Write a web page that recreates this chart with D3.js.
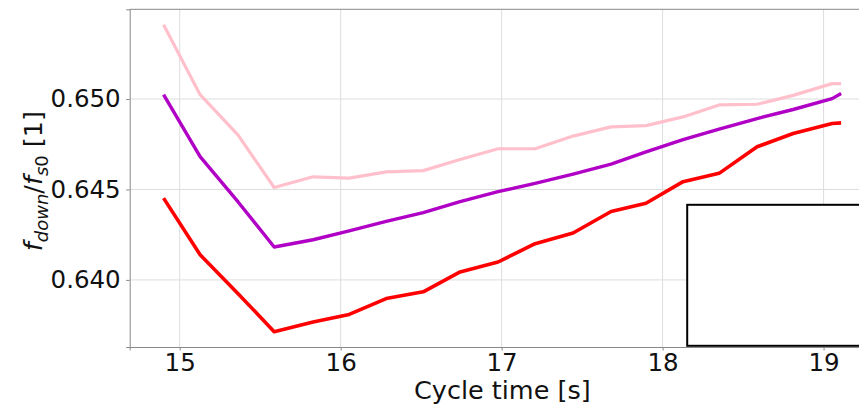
<!DOCTYPE html>
<meta charset="utf-8">
<style>
	body { margin: 0; background: #fff; }
	text { font-family: "DejaVu Sans", sans-serif; fill: #111; }
</style>
<body>
<script src="https://d3js.org/d3.v7.min.js"></script>
<script>
// cycle times [s]
var cycleTime = [14.90, 15.127, 15.363, 15.587, 15.829, 16.053, 16.283, 16.513, 16.742, 16.978,
                 17.208, 17.444, 17.680, 17.897, 18.127, 18.351, 18.587, 18.811, 19.053, 19.109];

// f_down / f_s0 for the three curves
var pinkValues   = [0.65411, 0.65024, 0.64800, 0.64511, 0.64570, 0.64563, 0.64597, 0.64604, 0.64666, 0.64725,
                    0.64725, 0.64795, 0.64846, 0.64853, 0.64901, 0.64967, 0.64971, 0.65020, 0.65085, 0.65085];
var purpleValues = [0.65024, 0.64681, 0.64431, 0.64182, 0.64222, 0.64271, 0.64323, 0.64372, 0.64433, 0.64488,
                    0.64534, 0.64585, 0.64640, 0.64708, 0.64776, 0.64833, 0.64892, 0.64942, 0.65002, 0.65030];
var redValues    = [0.64452, 0.64139, 0.63924, 0.63714, 0.63767, 0.63809, 0.63897, 0.63934, 0.64044, 0.64099,
                    0.64200, 0.64259, 0.64378, 0.64424, 0.64543, 0.64589, 0.64736, 0.64809, 0.64865, 0.64868];

var xTicks = [15, 16, 17, 18, 19];
var yTicks = [0.640, 0.645, 0.650];

// set the dimensions and margins of the graph (axes run off the right edge)
var margin = {top: 9.3, left: 129.7},
    width = 745.3,
    height = 337.7;

var svg = d3.select("body").append("svg")
    .attr("width", 859)
    .attr("height", 405)
  .append("g")
    .attr("transform", "translate(" + margin.left + "," + margin.top + ")");

// matplotlib-like 5% margins around the data
function padded(ext) {
	var p = (ext[1] - ext[0]) * 0.05;
	return [ext[0] - p, ext[1] + p];
}
var x = d3.scaleLinear()
	.domain(padded(d3.extent(cycleTime)))
	.range([0, width]);
var y = d3.scaleLinear()
	.domain(padded(d3.extent(pinkValues.concat(purpleValues, redValues))))
	.range([height, 0]);

// grid
svg.append("g").selectAll("line").data(xTicks).enter().append("line")
	.attr("x1", function(d) { return x(d); }).attr("x2", function(d) { return x(d); })
	.attr("y1", 0).attr("y2", height)
	.attr("stroke", "#dddddd").attr("stroke-width", 1);
svg.append("g").selectAll("line").data(yTicks).enter().append("line")
	.attr("y1", function(d) { return y(d); }).attr("y2", function(d) { return y(d); })
	.attr("x1", 0).attr("x2", width)
	.attr("stroke", "#dddddd").attr("stroke-width", 1);

// lines
var line = d3.line()
	.x(function(d) { return x(d[0]); })
	.y(function(d) { return y(d[1]); });

var series = [
	{values: pinkValues,   color: "#ffc0cb", w: 3.2},
	{values: purpleValues, color: "#b100c6", w: 3.4},
	{values: redValues,    color: "#ff0000", w: 3.6}
];
series.forEach(function(s) {
	svg.append("path")
		.datum(d3.zip(cycleTime, s.values))
		.attr("fill", "none")
		.attr("stroke", s.color)
		.attr("stroke-width", s.w)
		.attr("stroke-linejoin", "round")
		.attr("d", line);
});

// axes
var xAxis = svg.append("g")
	.attr("transform", "translate(0," + height + ")")
	.call(d3.axisBottom(x).tickValues(xTicks).tickSize(3.5).tickPadding(3.5).tickFormat(d3.format("d")));
var yAxis = svg.append("g")
	.call(d3.axisLeft(y).tickValues(yTicks).tickSize(3.5).tickPadding(5.5).tickFormat(d3.format(".3f")));
[xAxis, yAxis].forEach(function(a) {
	a.attr("font-size", null).attr("font-family", null);
	a.select(".domain").attr("stroke", "#888").attr("stroke-width", 1);
	a.selectAll(".tick line").attr("stroke", "#888");
	a.selectAll(".tick text").style("font-size", "24.5px").attr("fill", "#111");
});
// top spine
svg.append("line").attr("x1", 0).attr("x2", width).attr("y1", 0).attr("y2", 0)
	.attr("stroke", "#888").attr("stroke-width", 1);

// legend frame (clipped by the figure edge)
svg.append("rect")
	.attr("x", 557.5).attr("y", 195.5)
	.attr("width", 260).attr("height", 141)
	.attr("fill", "#fff").attr("stroke", "#000").attr("stroke-width", 2);

// axis labels
svg.append("text")
	.attr("x", width / 2).attr("y", 399.5 - margin.top)
	.attr("text-anchor", "middle")
	.style("font-size", "25.5px")
	.text("Cycle time [s]");

var yl = svg.append("text")
	.attr("transform", "translate(" + (42 - margin.left) + "," + (height / 2 + 3) + ") rotate(-90)")
	.attr("text-anchor", "middle")
	.style("font-size", "25.5px");
yl.append("tspan").style("font-style", "italic").text("f");
yl.append("tspan").attr("dy", 5.5).style("font-size", "18px").style("font-style", "italic").text("down");
yl.append("tspan").attr("dy", -5.5).text("/");
yl.append("tspan").style("font-style", "italic").text("f");
yl.append("tspan").attr("dy", 5.5).style("font-size", "18px").style("font-style", "italic").text("s");
yl.append("tspan").style("font-size", "18px").text("0");
yl.append("tspan").attr("dy", -5.5).text(" [1]");
</script>
</body>
